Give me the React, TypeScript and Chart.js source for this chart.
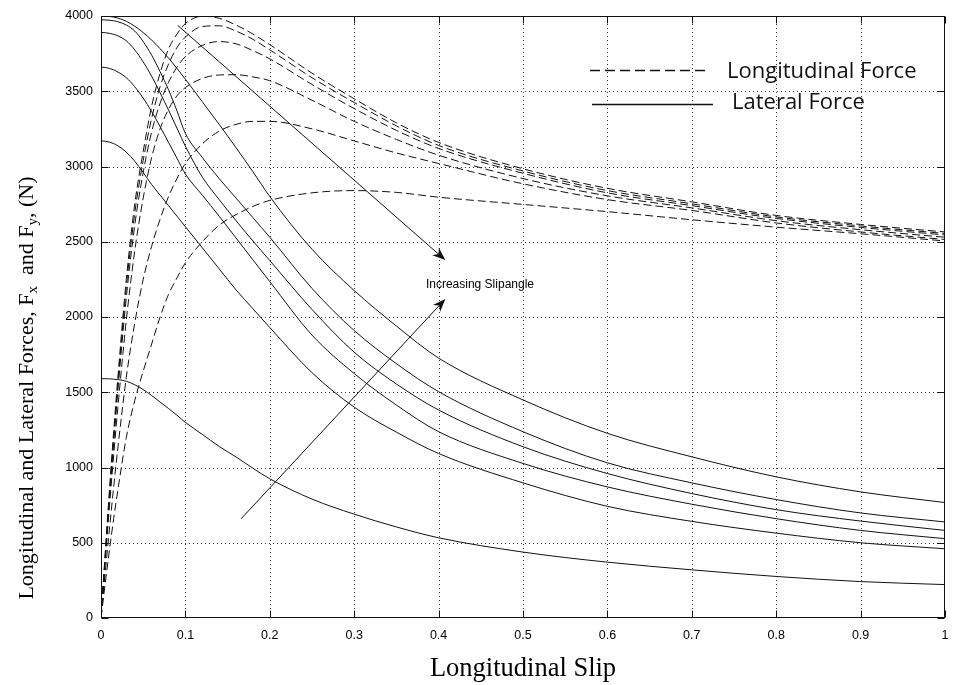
import React, { useEffect, useRef } from 'react';
import { Chart, registerables } from 'chart.js';

Chart.register(...registerables);

// Longitudinal slip sample points (shared by every curve)
const SLIP = [0, 0.005, 0.01, 0.015, 0.02, 0.03, 0.04, 0.05, 0.06, 0.07, 0.08, 0.09, 0.1, 0.12, 0.14, 0.16, 0.18, 0.2, 0.25, 0.3, 0.35, 0.4, 0.5, 0.6, 0.7, 0.8, 0.9, 1.0];

// Longitudinal force Fx (N), dashed, one per slip angle (smallest -> largest)
const FX_1 = [0, 430, 850, 1240, 1600, 2250, 2750, 3100, 3400, 3620, 3780, 3880, 3950, 3998, 3985, 3940, 3880, 3810, 3620, 3450, 3290, 3160, 2985, 2855, 2765, 2675, 2615, 2565];
const FX_2 = [0, 415, 820, 1200, 1560, 2200, 2690, 3040, 3320, 3530, 3680, 3790, 3860, 3930, 3935, 3900, 3845, 3775, 3590, 3425, 3270, 3140, 2970, 2840, 2752, 2665, 2605, 2555];
const FX_3 = [0, 400, 790, 1160, 1510, 2130, 2610, 2960, 3230, 3420, 3560, 3660, 3730, 3805, 3830, 3815, 3770, 3715, 3545, 3385, 3240, 3120, 2955, 2825, 2740, 2655, 2595, 2545];
const FX_4 = [0, 380, 740, 1080, 1400, 1980, 2440, 2790, 3060, 3250, 3380, 3470, 3525, 3585, 3608, 3610, 3595, 3570, 3440, 3300, 3180, 3075, 2920, 2805, 2725, 2640, 2580, 2530];
const FX_5 = [0, 300, 590, 870, 1130, 1600, 1960, 2250, 2470, 2650, 2800, 2920, 3020, 3150, 3235, 3280, 3300, 3300, 3250, 3170, 3090, 3020, 2885, 2780, 2708, 2625, 2565, 2515];
const FX_6 = [0, 230, 450, 660, 850, 1200, 1445, 1640, 1820, 2000, 2150, 2260, 2360, 2500, 2610, 2680, 2735, 2775, 2825, 2840, 2828, 2796, 2748, 2700, 2646, 2597, 2553, 2505];

// Lateral force Fy (N), solid, one per slip angle (smallest -> largest)
const FY_1 = [1590, 1590, 1589, 1587, 1584, 1573, 1550, 1518, 1478, 1435, 1392, 1347, 1300, 1220, 1140, 1070, 995, 925, 790, 690, 605, 533, 438, 371, 320, 276, 242, 222];
const FY_2 = [3170, 3168, 3162, 3152, 3138, 3095, 3035, 2960, 2880, 2810, 2740, 2670, 2600, 2460, 2320, 2180, 2055, 1930, 1630, 1401, 1235, 1093, 898, 742, 642, 564, 500, 460];
const FY_3 = [3660, 3658, 3652, 3642, 3628, 3590, 3530, 3455, 3365, 3265, 3160, 3055, 2950, 2810, 2670, 2525, 2380, 2235, 1880, 1624, 1415, 1238, 1027, 871, 756, 660, 582, 527];
const FY_4 = [3890, 3889, 3885, 3878, 3868, 3835, 3775, 3695, 3600, 3490, 3375, 3255, 3135, 2930, 2780, 2640, 2505, 2375, 2050, 1766, 1555, 1382, 1138, 960, 827, 720, 644, 582];
const FY_5 = [3975, 3974, 3972, 3968, 3962, 3940, 3900, 3830, 3740, 3630, 3510, 3370, 3220, 3060, 2920, 2790, 2660, 2530, 2190, 1910, 1690, 1504, 1238, 1031, 898, 787, 698, 638];
const FY_6 = [4000, 3999, 3997, 3993, 3986, 3965, 3932, 3890, 3840, 3783, 3720, 3652, 3580, 3430, 3280, 3125, 2965, 2800, 2450, 2176, 1940, 1727, 1449, 1227, 1071, 938, 838, 767];

const FX_SERIES = [FX_1, FX_2, FX_3, FX_4, FX_5, FX_6];
const FY_SERIES = [FY_1, FY_2, FY_3, FY_4, FY_5, FY_6];

const X_MIN = 0;
const X_MAX = 1;
const X_STEP = 0.1;
const Y_MIN = 0;
const Y_MAX = 4000;
const Y_STEP = 500;

const LEGEND_LABELS = ['Longitudinal Force', 'Lateral Force'];
const X_TITLE = 'Longitudinal Slip';
const Y_TITLE_PARTS = [
  { t: 'Longitudinal and Lateral Forces, F', sub: false },
  { t: 'x', sub: true },
  { t: '  and F', sub: false },
  { t: 'y', sub: true },
  { t: ', (N)', sub: false },
];
const ANNOTATION_TEXT = 'Increasing Slipangle';
// annotation arrows in data coordinates [slip, force]
const ARROW_DOWN = { from: [0.091, 3937], to: [0.408, 2378] };
const ARROW_UP = { from: [0.166, 659], to: [0.408, 2120] };
const ANNOTATION_AT = [0.449, 2216];

const INK = '#111';
const W = 953;
const H = 685;

function fmtX(v: number) {
  const n = Math.round(v * 10) / 10;
  if (n === 0) return '0';
  if (n === 1) return '1';
  return n.toFixed(1);
}

function drawArrow(ctx: CanvasRenderingContext2D, x1: number, y1: number, x2: number, y2: number) {
  const ang = Math.atan2(y2 - y1, x2 - x1);
  const len = 13;
  const half = 5;
  ctx.beginPath();
  ctx.moveTo(x1, y1);
  ctx.lineTo(x2 - Math.cos(ang) * 6, y2 - Math.sin(ang) * 6);
  ctx.stroke();
  const bx = x2 - Math.cos(ang) * len;
  const by = y2 - Math.sin(ang) * len;
  const nx = -Math.sin(ang);
  const ny = Math.cos(ang);
  const mx = x2 - Math.cos(ang) * (len * 0.7);
  const my = y2 - Math.sin(ang) * (len * 0.7);
  ctx.beginPath();
  ctx.moveTo(x2, y2);
  ctx.lineTo(bx + nx * half, by + ny * half);
  ctx.lineTo(mx, my);
  ctx.lineTo(bx - nx * half, by - ny * half);
  ctx.closePath();
  ctx.fill();
}

const decorPlugin = {
  id: 'decor',
  beforeDatasetsDraw(chart: any) {
    const { ctx, chartArea: a, scales } = chart;
    const x = scales.x;
    const y = scales.y;
    ctx.save();
    ctx.strokeStyle = '#333';
    ctx.lineWidth = 1;
    ctx.setLineDash([1, 3]);
    x.ticks.forEach((t: any) => {
      const px = Math.round(x.getPixelForValue(t.value)) + 0.5;
      if (px <= a.left + 2 || px >= a.right - 2) return;
      ctx.beginPath();
      ctx.moveTo(px, a.top);
      ctx.lineTo(px, a.bottom);
      ctx.stroke();
    });
    y.ticks.forEach((t: any) => {
      const py = Math.round(y.getPixelForValue(t.value)) + 0.5;
      if (py <= a.top + 2 || py >= a.bottom - 2) return;
      ctx.beginPath();
      ctx.moveTo(a.left, py);
      ctx.lineTo(a.right, py);
      ctx.stroke();
    });
    ctx.restore();
  },
  afterDatasetsDraw(chart: any) {
    const { ctx, chartArea: a, scales } = chart;
    const x = scales.x;
    const y = scales.y;
    ctx.save();
    ctx.setLineDash([]);
    ctx.strokeStyle = INK;
    ctx.fillStyle = INK;
    ctx.lineWidth = 1;
    const L = Math.round(a.left) + 0.5;
    const R = Math.round(a.right) - 0.5;
    const T = Math.round(a.top) + 0.5;
    const B = Math.round(a.bottom) - 0.5;
    ctx.strokeRect(L, T, R - L, B - T);
    const tl = 7;
    x.ticks.forEach((t: any) => {
      const px = Math.round(x.getPixelForValue(t.value)) + 0.5;
      ctx.beginPath();
      ctx.moveTo(px, B);
      ctx.lineTo(px, B - tl);
      ctx.moveTo(px, T);
      ctx.lineTo(px, T + tl);
      ctx.stroke();
    });
    y.ticks.forEach((t: any) => {
      const py = Math.round(y.getPixelForValue(t.value)) + 0.5;
      ctx.beginPath();
      ctx.moveTo(L, py);
      ctx.lineTo(L + tl, py);
      ctx.moveTo(R, py);
      ctx.lineTo(R - tl, py);
      ctx.stroke();
    });

    const p = (v: number[]) => [x.getPixelForValue(v[0]), y.getPixelForValue(v[1])];
    const d1 = p(ARROW_DOWN.from), d2 = p(ARROW_DOWN.to);
    const u1 = p(ARROW_UP.from), u2 = p(ARROW_UP.to);
    drawArrow(ctx, d1[0], d1[1], d2[0], d2[1]);
    drawArrow(ctx, u1[0], u1[1], u2[0], u2[1]);
    const ta = p(ANNOTATION_AT);
    ctx.font = '12px "Liberation Sans", Arial, sans-serif';
    ctx.textAlign = 'center';
    ctx.textBaseline = 'middle';
    ctx.fillStyle = '#000';
    ctx.fillText(ANNOTATION_TEXT, ta[0], ta[1]);

    // legend
    const lx1 = a.left + 489;
    const lx2 = a.left + 609;
    const ly1 = a.top + 54.5;
    const ly2 = a.top + 88.5;
    ctx.lineWidth = 1.3;
    ctx.setLineDash([10, 5]);
    ctx.beginPath();
    ctx.moveTo(lx1, ly1);
    ctx.lineTo(lx2, ly1);
    ctx.stroke();
    ctx.setLineDash([]);
    ctx.lineWidth = 1.6;
    ctx.beginPath();
    ctx.moveTo(lx1 + 2, ly2);
    ctx.lineTo(lx2 + 3, ly2);
    ctx.stroke();
    ctx.font = '22px "Open Sans", Lato, sans-serif';
    ctx.textAlign = 'left';
    ctx.textBaseline = 'alphabetic';
    ctx.fillStyle = '#111';
    ctx.fillText(LEGEND_LABELS[0], lx1 + 137, ly1 + 7.5);
    ctx.fillText(LEGEND_LABELS[1], lx1 + 142, ly2 + 4);
    ctx.restore();
  },
  afterDraw(chart: any) {
    const { ctx, chartArea: a } = chart;
    ctx.save();
    ctx.fillStyle = '#000';
    ctx.font = '26.5px "Liberation Serif", "Times New Roman", serif';
    ctx.textAlign = 'center';
    ctx.textBaseline = 'middle';
    ctx.fillText(X_TITLE, (a.left + a.right) / 2, a.bottom + 51);
    const mainFont = '22px "Liberation Serif", "Times New Roman", serif';
    const subFont = '15px "Liberation Serif", "Times New Roman", serif';
    let total = 0;
    Y_TITLE_PARTS.forEach((pt) => {
      ctx.font = pt.sub ? subFont : mainFont;
      total += ctx.measureText(pt.t).width;
    });
    ctx.translate(26, 388);
    ctx.rotate(-Math.PI / 2);
    ctx.textAlign = 'left';
    ctx.textBaseline = 'alphabetic';
    let cx = -total / 2;
    Y_TITLE_PARTS.forEach((pt) => {
      ctx.font = pt.sub ? subFont : mainFont;
      ctx.fillText(pt.t, cx, pt.sub ? 11 : 7);
      cx += ctx.measureText(pt.t).width;
    });
    ctx.restore();
  },
};

export default function App() {
  const ref = useRef<HTMLCanvasElement | null>(null);
  useEffect(() => {
    if (!ref.current) return;
    const dashed = FX_SERIES.map((vals, i) => ({
      label: `Fx ${i + 1}`,
      data: SLIP.map((s, k) => ({ x: s, y: vals[k] })),
      borderColor: INK,
      borderWidth: 1,
      borderDash: [8, 4],
      pointRadius: 0,
      fill: false,
      cubicInterpolationMode: 'monotone' as const,
    }));
    const solid = FY_SERIES.map((vals, i) => ({
      label: `Fy ${i + 1}`,
      data: SLIP.map((s, k) => ({ x: s, y: vals[k] })),
      borderColor: INK,
      borderWidth: 1,
      pointRadius: 0,
      fill: false,
      cubicInterpolationMode: 'monotone' as const,
    }));
    const chart = new Chart(ref.current, {
      type: 'line',
      data: { datasets: [...dashed, ...solid] },
      options: {
        animation: false,
        responsive: false,
        devicePixelRatio: 1,
        layout: { padding: { left: 0, right: 8, top: 16, bottom: 0 } },
        plugins: { legend: { display: false }, tooltip: { enabled: false }, title: { display: false } },
        scales: {
          x: {
            type: 'linear',
            min: X_MIN,
            max: X_MAX,
            grid: { display: false, drawTicks: false },
            border: { display: false },
            ticks: {
              stepSize: X_STEP,
              padding: 10,
              color: '#000',
              font: { family: '"Liberation Sans", Arial, sans-serif', size: 12.5 },
              maxRotation: 0,
              autoSkip: false,
              callback: (v: any) => fmtX(Number(v)),
            },
            afterFit: (s: any) => { s.height = 67; s.paddingLeft = 0; s.paddingRight = 0; },
          },
          y: {
            type: 'linear',
            min: Y_MIN,
            max: Y_MAX,
            grid: { display: false, drawTicks: false },
            border: { display: false },
            ticks: {
              stepSize: Y_STEP,
              padding: 8,
              color: '#000',
              font: { family: '"Liberation Sans", Arial, sans-serif', size: 12.5 },
              autoSkip: false,
              callback: (v: any) => String(Math.round(Number(v))),
            },
            afterFit: (s: any) => { s.width = 101; s.paddingTop = 0; s.paddingBottom = 0; },
          },
        },
      },
      plugins: [decorPlugin],
    });
    return () => chart.destroy();
  }, []);
  return (
    <div style={{ position: 'absolute', left: 0, top: 0, width: W, height: H, background: '#fff' }}>
      <canvas ref={ref} width={W} height={H} style={{ display: 'block', width: W, height: H }} />
    </div>
  );
}
